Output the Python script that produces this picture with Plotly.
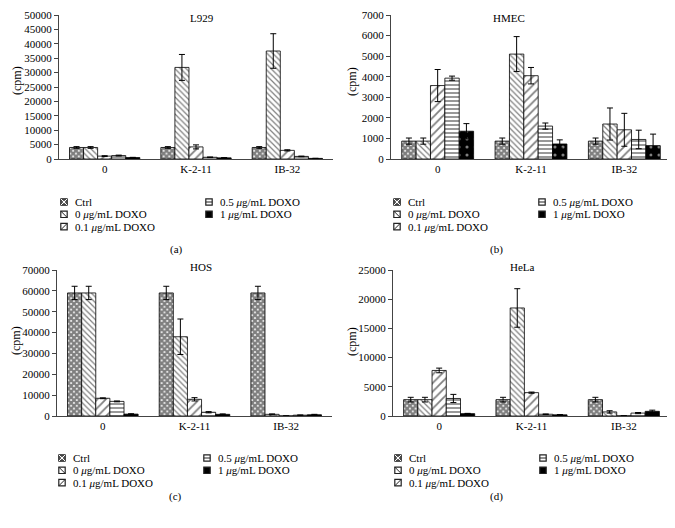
import plotly.graph_objects as go

# page is shown in a 675x528 window; the page body has an 8px margin
OFF = 8
W, H = 675 - OFF, 528 - 2 * OFF

categories = ["0", "K-2-11", "IB-32"]
series_names = ["Ctrl", "0 <i>μ</i>g/mL DOXO", "0.1 <i>μ</i>g/mL DOXO",
                "0.5 <i>μ</i>g/mL DOXO", "1 <i>μ</i>g/mL DOXO"]

# values per series (Ctrl, 0, 0.1, 0.5, 1 μg/mL) across categories
L929_values = [[4000, 4000, 4000], [4000, 31800, 37500], [1000, 4200, 3000],
               [1200, 600, 900], [500, 400, 200]]
L929_errors = [[300, 300, 300], [300, 4500, 6000], [150, 700, 200],
               [150, 100, 100], [80, 80, 50]]

HMEC_values = [[870, 870, 870], [870, 5100, 1700], [3570, 4050, 1420],
               [3930, 1600, 950], [1350, 730, 650]]
HMEC_errors = [[150, 150, 150], [150, 850, 780], [780, 400, 800],
               [100, 150, 450], [370, 200, 560]]

HOS_values = [[59000, 59000, 59000], [59000, 38000, 800], [8500, 8000, 50],
              [7000, 1800, 400], [900, 800, 600]]
HOS_errors = [[3200, 3200, 3200], [3200, 8500, 200], [200, 800, 0],
              [200, 300, 100], [200, 200, 200]]

HeLa_values = [[2800, 2800, 2800], [2800, 18500, 700], [7800, 4000, 30],
               [3000, 300, 500], [400, 200, 800]]
HeLa_errors = [[400, 400, 400], [400, 3300, 200], [400, 100, 0],
               [700, 50, 100], [50, 50, 200]]

panel_titles = ["L929", "HMEC", "HOS", "HeLa"]
panel_letters = ["(a)", "(b)", "(c)", "(d)"]
y_max = [50000, 7000, 70000, 25000]
y_dtick = [5000, 1000, 10000, 5000]

patterns = [
    dict(shape="x", fgcolor="black", bgcolor="white", size=4, solidity=0.8),
    dict(shape="\\", fgcolor="black", bgcolor="white", size=4, solidity=0.3),
    dict(shape="/", fgcolor="black", bgcolor="white", size=6, solidity=0.3),
    dict(shape="-", fgcolor="black", bgcolor="white", size=4, solidity=0.4),
    dict(shape=".", fgcolor="white", bgcolor="black", size=8, solidity=0.12),
]
# legend icon: (fill colour, inner line kinds)
icon_styles = [("#666", ["x"]), ("white", ["\\"]), ("white", ["/"]),
               ("white", ["-"]), ("black", [])]

SERIF = "Liberation Serif"

# window-pixel layout of each panel: (x0, x1, ytop, ybottom)
boxes = [(59, 333, 15, 159), (391, 671, 15, 159),
         (57, 332, 270, 416), (393, 670, 270, 416)]
title_pos = [(188, 10), (527, 10), (188, 267), (537, 267)]
ytitle_pos = [(17, 81), (352, 82), (16, 341), (352, 342)]
legend_pos = [(64, 202), (397, 202), (62, 458), (398, 458)]
legend_col2_dx = 145
letter_pos = [(168, 249), (505, 249), (167, 505), (505, 505)]

def px(x):
    return (x - OFF) / W

def py(y):
    return 1 - (y - OFF) / H

fig = go.Figure()
data = [(L929_values, L929_errors), (HMEC_values, HMEC_errors),
        (HOS_values, HOS_errors), (HeLa_values, HeLa_errors)]

annotations = []
shapes = []
for p, (vals, errs) in enumerate(data):
    ax = "" if p == 0 else str(p + 1)
    for s in range(5):
        fig.add_trace(go.Bar(
            x=categories, y=vals[s], name=series_names[s],
            xaxis="x" + ax, yaxis="y" + ax, showlegend=False,
            marker=dict(pattern=patterns[s], line=dict(color="black", width=0.8)),
            error_y=dict(type="data", array=errs[s], color="black",
                         thickness=1, width=3),
        ))
    x0, x1, yt, yb = boxes[p]
    fig.layout["xaxis" + ax] = dict(
        domain=[px(x0), min(1, px(x1))], anchor="y" + ax, showline=True,
        linecolor="#444", linewidth=1, ticks="", showgrid=False,
        automargin=False,
        tickfont=dict(family=SERIF, size=11, color="black"))
    fig.layout["yaxis" + ax] = dict(
        domain=[py(yb), py(yt)], anchor="x" + ax, range=[0, y_max[p]],
        dtick=y_dtick[p], tickformat="d", showline=True, linecolor="#444",
        linewidth=1, ticks="outside", ticklen=4, tickcolor="#444",
        showgrid=False, zeroline=False, automargin=False,
        tickfont=dict(family=SERIF, size=11, color="black"))
    tx, ty = title_pos[p]
    annotations.append(dict(text=panel_titles[p], x=px(tx), y=py(ty),
                            xref="paper", yref="paper", showarrow=False,
                            font=dict(family=SERIF, size=11, color="black")))
    yx, yy = ytitle_pos[p]
    annotations.append(dict(text="(cpm)", x=px(yx), y=py(yy), textangle=-90,
                            xref="paper", yref="paper", showarrow=False,
                            xanchor="center", yanchor="middle",
                            font=dict(family=SERIF, size=12, color="black")))
    lx, ly = legend_pos[p]
    for s in range(5):
        col = 0 if s < 3 else 1
        row = s if s < 3 else s - 3
        ix = lx + col * legend_col2_dx
        iy = ly + row * 12.3
        r = 3.2
        fill, lines = icon_styles[s]
        shapes.append(dict(type="rect", xref="paper", yref="paper",
                           x0=px(ix - r), x1=px(ix + r),
                           y0=py(iy + r), y1=py(iy - r),
                           fillcolor=fill, line=dict(color="#222", width=1.2)))
        for kind in lines:
            segs = []
            if kind in ("x", "\\"):
                segs.append((ix - r, iy - r, ix + r, iy + r))
            if kind in ("x", "/"):
                segs.append((ix - r, iy + r, ix + r, iy - r))
            if kind == "-":
                segs.append((ix - r, iy, ix + r, iy))
            lc = "white" if kind == "x" else "#222"
            for (a, b, c, d) in segs:
                shapes.append(dict(type="line", xref="paper", yref="paper",
                                   x0=px(a), y0=py(b), x1=px(c), y1=py(d),
                                   line=dict(color=lc, width=1)))
        annotations.append(dict(text=series_names[s], x=px(ix + 9), y=py(iy),
                                xref="paper", yref="paper", showarrow=False,
                                xanchor="left", yanchor="middle",
                                font=dict(family=SERIF, size=11, color="black")))
    lx2, ly2 = letter_pos[p]
    annotations.append(dict(text=panel_letters[p], x=px(lx2), y=py(ly2),
                            xref="paper", yref="paper", showarrow=False,
                            font=dict(family=SERIF, size=11, color="black")))

fig.update_layout(
    width=W, height=H, margin=dict(l=0, r=0, t=0, b=0),
    paper_bgcolor="white", plot_bgcolor="white",
    barmode="group", bargap=0.23, bargroupgap=0,
    annotations=annotations, shapes=shapes, showlegend=False,
)

fig.write_html("out.html")
